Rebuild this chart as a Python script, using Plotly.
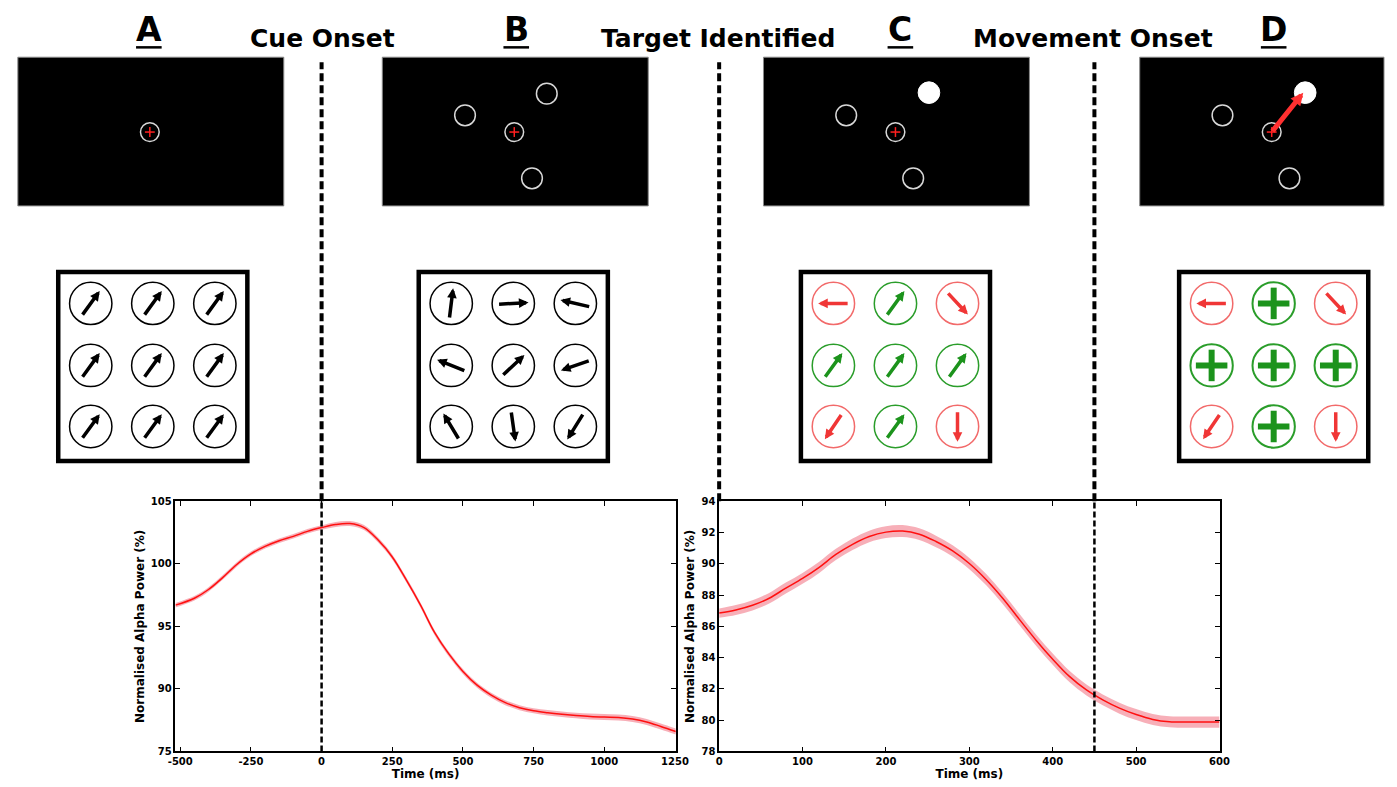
import math
import plotly.graph_objects as go

W, H = 1397, 787
FONT = "DejaVu Sans"

# ---------------- data ----------------
t1 = [-517, -450, -400, -350, -300, -250, -200, -150, -100, -50, 0, 50, 100, 150, 200,
      250, 300, 350, 400, 450, 500, 550, 600, 650, 700, 750, 800, 850, 900, 950, 1000,
      1050, 1100, 1150, 1200, 1253]
alpha1 = [96.7, 97.25, 97.95, 98.9, 99.95, 100.8, 101.4, 101.85, 102.2, 102.6, 102.9,
          103.15, 103.22, 102.9, 101.9, 100.55, 98.7, 96.7, 94.5, 92.8, 91.4, 90.3, 89.5,
          88.9, 88.5, 88.25, 88.1, 87.98, 87.88, 87.8, 87.75, 87.72, 87.6, 87.36, 87.0, 86.6]
sem1 = [0.18, 0.18, 0.18, 0.18, 0.18, 0.18, 0.18, 0.18, 0.18, 0.18, 0.18, 0.2, 0.2, 0.2,
        0.2, 0.2, 0.2, 0.2, 0.2, 0.2, 0.2, 0.2, 0.2, 0.2, 0.2, 0.2, 0.22, 0.22, 0.22, 0.24,
        0.24, 0.24, 0.24, 0.24, 0.24, 0.24]

t2 = [0, 20, 40, 60, 80, 100, 120, 140, 160, 180, 200, 220, 240, 260, 280, 300, 320, 340,
      360, 380, 400, 420, 440, 460, 480, 500, 520, 540, 560, 580, 600]
alpha2 = [86.85, 87.05, 87.35, 87.8, 88.45, 89.07, 89.78, 90.6, 91.25, 91.75, 92.03, 92.1,
          91.9, 91.43, 90.83, 90.02, 89.0, 87.8, 86.45, 85.12, 83.9, 82.8, 81.95, 81.3,
          80.77, 80.36, 80.05, 79.9, 79.88, 79.88, 79.88]
sem2 = [0.3, 0.32, 0.33, 0.34, 0.35, 0.35, 0.36, 0.36, 0.37, 0.37, 0.38, 0.38, 0.37, 0.37,
        0.36, 0.36, 0.36, 0.36, 0.36, 0.36, 0.36, 0.36, 0.35, 0.35, 0.35, 0.35, 0.35, 0.35,
        0.36, 0.36, 0.36]

y1_ticks = [85, 90, 95, 100, 105]
y1_ticktext = ["75", "90", "95", "100", "105"]
x1_ticks = [-500, -250, 0, 250, 500, 750, 1000, 1250]
x1_ticktext = ["-500", "-250", "0", "250", "500", "750", "1000", "1250"]
x2_ticks = [0, 100, 200, 300, 400, 500, 600]
y2_ticks = [78, 80, 82, 84, 86, 88, 90, 92, 94]

cue_onset_ms = 0
movement_onset_ms = 450

panel_labels = ["A", "B", "C", "D"]
event_labels = ["Cue Onset", "Target Identified", "Movement Onset"]

# arrow directions (degrees, counter-clockwise from rightward) for each 3x3 grid
gridA_angles = [[54, 54, 54], [54, 54, 54], [54, 54, 54]]
gridB_angles = [[83, 3, 167], [158, 43, 199], [121, 278, 238]]
gridC_angles = [[180, 54, 313], [54, 54, 54], [236, 54, 270]]
gridC_correct = [[0, 1, 0], [1, 1, 1], [0, 1, 0]]
gridD_angles = gridC_angles
gridD_correct = gridC_correct

# ---------------- helpers ----------------
def px(x):
    return x / W

def py(y):
    return 1 - y / H

shapes = []
annotations = []

def circle(cx, cy, r, color, width, fill="rgba(0,0,0,0)"):
    shapes.append(dict(type="circle", xref="paper", yref="paper",
                       x0=px(cx - r), x1=px(cx + r), y0=py(cy + r), y1=py(cy - r),
                       line=dict(color=color, width=width), fillcolor=fill, layer="above"))

def seg(x0, y0, x1, y1, color, width, dash=None):
    ln = dict(color=color, width=width)
    if dash:
        ln["dash"] = dash
    shapes.append(dict(type="line", xref="paper", yref="paper",
                       x0=px(x0), x1=px(x1), y0=py(y0), y1=py(y1), line=ln, layer="above"))

def arrow(cx, cy, ang, L, color, width, size=0.55):
    c, s = math.cos(math.radians(ang)), math.sin(math.radians(ang))
    hx, hy = cx + L / 2 * c, cy - L / 2 * s
    annotations.append(dict(x=px(hx), y=py(hy), xref="paper", yref="paper",
                            ax=-L * c, ay=L * s, text="", showarrow=True,
                            arrowhead=2, arrowsize=size, arrowwidth=width,
                            arrowcolor=color, standoff=0, startstandoff=0))

# ---------------- figure ----------------
fig = go.Figure()

X1D = [170 / W, 678 / W]
X2D = [722 / W, 1230 / W]
YD = [py(757), py(503)]

band_col = "rgba(240,110,125,0.55)"
line_col = "#ff1010"

for t, a, s, xa, ya in [(t1, alpha1, sem1, "x", "y"), (t2, alpha2, sem2, "x2", "y2")]:
    lo = [v - e for v, e in zip(a, s)]
    hi = [v + e for v, e in zip(a, s)]
    fig.add_trace(go.Scatter(x=t, y=lo, mode="lines", line=dict(width=0, shape="spline"),
                             xaxis=xa, yaxis=ya, hoverinfo="skip"))
    fig.add_trace(go.Scatter(x=t, y=hi, mode="lines", line=dict(width=0, shape="spline"),
                             fill="tonexty", fillcolor=band_col, xaxis=xa, yaxis=ya,
                             hoverinfo="skip"))
    fig.add_trace(go.Scatter(x=t, y=a, mode="lines",
                             line=dict(color=line_col, width=1.5, shape="spline"),
                             xaxis=xa, yaxis=ya))

axis_common = dict(showline=True, linecolor="black", linewidth=1.5, mirror="allticks",
                   ticks="inside", ticklen=5, tickwidth=1, tickcolor="black",
                   showgrid=False, zeroline=False,
                   tickfont=dict(family=FONT, size=10, color="black", weight="bold"))
title_font = dict(family=FONT, size=12, color="black", weight="bold")

fig.update_layout(
    xaxis=dict(domain=X1D, range=[-517, 1253], tickvals=x1_ticks, ticktext=x1_ticktext,
               anchor="y", title=dict(text="Time (ms)", standoff=1, font=title_font),
               **axis_common),
    yaxis=dict(domain=YD, range=[85, 105], tickvals=y1_ticks, ticktext=y1_ticktext, anchor="x",
               title=dict(text="Normalised Alpha Power (%)", standoff=4, font=title_font),
               **axis_common),
    xaxis2=dict(domain=X2D, range=[0, 600], tickvals=x2_ticks, anchor="y2",
                title=dict(text="Time (ms)", standoff=1, font=title_font),
                **axis_common),
    yaxis2=dict(domain=YD, range=[78, 94], tickvals=y2_ticks, anchor="x2",
                title=dict(text="Normalised Alpha Power (%)", standoff=4, font=title_font),
                **axis_common),
)

# ---- event dashed lines ----
top_y = py(57)
plot_top = YD[1]
dash_top = dict(color="black", width=4, dash="8px,4px")
dash_in = dict(color="black", width=2.5, dash="6px,3px")
# cue onset (t = 0 of first plot)
shapes.append(dict(type="line", xref="x", yref="paper", x0=cue_onset_ms, x1=cue_onset_ms,
                   y0=plot_top, y1=top_y, line=dash_top, layer="above"))
shapes.append(dict(type="line", xref="x", yref="y", x0=cue_onset_ms, x1=cue_onset_ms,
                   y0=85, y1=105, line=dash_in, layer="above"))
# target identified (left edge of second plot)
shapes.append(dict(type="line", xref="paper", yref="paper", x0=X2D[0], x1=X2D[0],
                   y0=plot_top, y1=top_y, line=dash_top, layer="above"))
# movement onset
shapes.append(dict(type="line", xref="x2", yref="paper", x0=movement_onset_ms,
                   x1=movement_onset_ms, y0=plot_top, y1=top_y, line=dash_top, layer="above"))
shapes.append(dict(type="line", xref="x2", yref="y2", x0=movement_onset_ms,
                   x1=movement_onset_ms, y0=78, y1=94, line=dash_in, layer="above"))

# ---- titles ----
label_x = [143, 516, 906, 1285]
for lab, lx in zip(panel_labels, label_x):
    annotations.append(dict(x=px(lx), y=py(24), xref="paper", yref="paper", text="<b>%s</b>" % lab,
                            showarrow=False, font=dict(family=FONT, size=33, color="black"),
                            xanchor="center", yanchor="middle"))
    seg(lx - 13, 42, lx + 13, 42, "black", 2.5)
event_x = [319, 721, 1102]
for lab, ex in zip(event_labels, event_x):
    annotations.append(dict(x=px(ex), y=py(33), xref="paper", yref="paper", text="<b>%s</b>" % lab,
                            showarrow=False, font=dict(family=FONT, size=25, color="black"),
                            xanchor="center", yanchor="middle"))

# ---- black screens ----
screen_left = [10, 380, 767, 1149]
for i, sl in enumerate(screen_left):
    shapes.append(dict(type="rect", xref="paper", yref="paper", x0=px(sl), x1=px(min(sl + 270, W)),
                       y0=py(203), y1=py(52), fillcolor="black", line=dict(color="#888", width=1),
                       layer="above"))
    fx, fy = sl + 134, 128
    circle(fx, fy, 9.5, "#d8d8d8", 1.5)
    seg(fx - 5, fy, fx + 5, fy, "#ff2020", 1.5)
    seg(fx, fy - 5, fx, fy + 5, "#ff2020", 1.5)
    if i >= 1:
        circle(sl + 84, 111, 10.5, "#d8d8d8", 1.5)
        circle(sl + 152, 175, 10.5, "#d8d8d8", 1.5)
        if i == 1:
            circle(sl + 167, 89, 10.5, "#d8d8d8", 1.5)
        else:
            circle(sl + 168, 88, 11, "white", 1, fill="white")
    if i == 3:
        annotations.append(dict(x=px(sl + 166), y=py(88), xref="paper", yref="paper",
                                ax=fx - (sl + 166), ay=fy - 88, text="", showarrow=True,
                                arrowhead=2, arrowsize=0.5, arrowwidth=5,
                                arrowcolor="#ff3030", standoff=0))

# ---- 3x3 grids ----
grid_left = [51, 417, 805, 1189]
col_off = [33, 96, 159]
row_y = [302, 365, 427]
RED_C, RED_A = "#f26a6a", "#f03636"
GRN_C, GRN_A = "#2a9d2a", "#1c931c"
L = 31
for gi, gl in enumerate(grid_left):
    shapes.append(dict(type="rect", xref="paper", yref="paper", x0=px(gl), x1=px(gl + 192),
                       y0=py(462), y1=py(270), fillcolor="white",
                       line=dict(color="black", width=4.5), layer="above"))
    for r in range(3):
        for c in range(3):
            cx, cy = gl + col_off[c], row_y[r]
            if gi == 0:
                circle(cx, cy, 21.5, "black", 1.5)
                arrow(cx, cy, gridA_angles[r][c], L, "black", 3.5)
            elif gi == 1:
                circle(cx, cy, 21.5, "black", 1.5)
                arrow(cx, cy, gridB_angles[r][c], L, "black", 3.5)
            elif gi == 2:
                ok = gridC_correct[r][c]
                circle(cx, cy, 21.5, GRN_C if ok else RED_C, 1.5)
                arrow(cx, cy, gridC_angles[r][c], L, GRN_A if ok else RED_A, 3.5)
            else:
                ok = gridD_correct[r][c]
                if ok:
                    circle(cx, cy, 21.5, GRN_C, 2)
                    seg(cx - 16, cy, cx + 16, cy, GRN_A, 6)
                    seg(cx, cy - 16, cx, cy + 16, GRN_A, 6)
                else:
                    circle(cx, cy, 21.5, RED_C, 1.5)
                    arrow(cx, cy, gridD_angles[r][c], L, RED_A, 3.5)

fig.update_layout(width=W, height=H, autosize=False, margin=dict(l=0, r=0, t=0, b=0),
                  paper_bgcolor="white", plot_bgcolor="white", showlegend=False,
                  shapes=shapes, annotations=annotations)

fig.write_html("out.html")
